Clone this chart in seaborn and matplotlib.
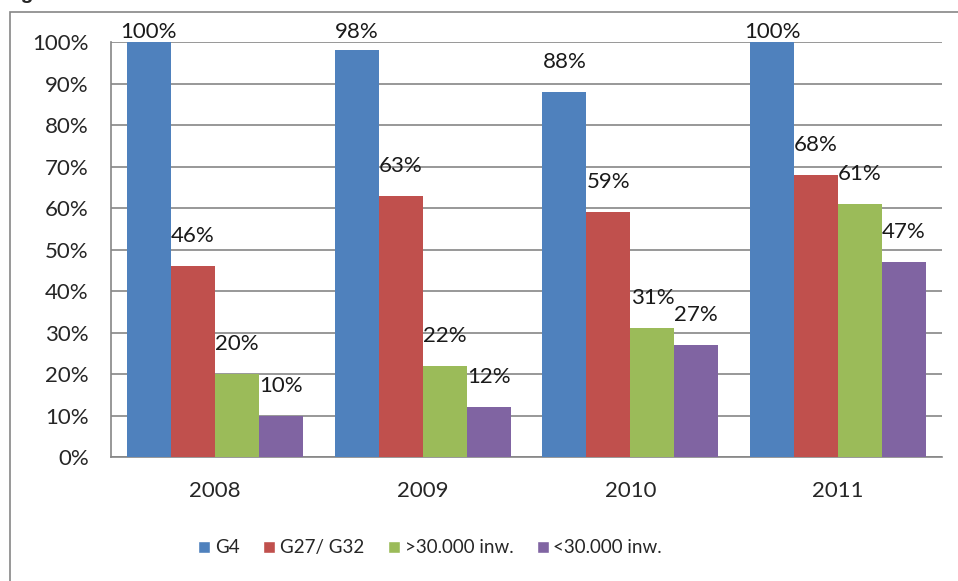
import numpy as np
import pandas as pd
import matplotlib.pyplot as plt
import seaborn as sns
from matplotlib.patches import Rectangle, Patch

years = ['2008', '2009', '2010', '2011']
groups = ['G4', 'G27/ G32', '>30.000 inw.', '<30.000 inw.']
g4 = [100, 98, 88, 100]
g27 = [46, 63, 59, 68]
boven30 = [20, 22, 31, 61]
onder30 = [10, 12, 27, 47]
colors = ['#4F81BD', '#C0504D', '#9BBB59', '#8064A2']

df = pd.DataFrame({
    'jaar': years * 4,
    'groep': np.repeat(groups, 4),
    'pct': g4 + g27 + boven30 + onder30,
})

sns.set_style('white')
plt.rcParams['font.family'] = ['Lato', 'DejaVu Sans']

fig = plt.figure(figsize=(9.58, 5.81), dpi=100)
ax = fig.add_axes([0.1159, 0.2134, 0.8674, 0.7143])

sns.barplot(data=df, x='jaar', y='pct', hue='groep', palette=colors,
            width=0.847, gap=0, saturation=1, linewidth=0, ax=ax,
            legend=False, zorder=3)

ax.set_ylim(0, 100)
# px per percent, used to keep labels from running over the top
px_per_pct = 0.7143 * 581 / 100
for cont in ax.containers:
    for bar in cont:
        h = bar.get_height()
        y = min(h + 20 / px_per_pct, 100)
        ax.text(bar.get_x() + bar.get_width() / 2, y, f'{h:.0f}%',
                ha='center', va='bottom', fontsize=16, color='#1a1a1a',
                zorder=5)

ax.set_yticks(range(0, 101, 10))
ax.set_yticklabels([f'{v}%' for v in range(0, 101, 10)], fontsize=16)
ax.tick_params(axis='x', labelsize=16, pad=17, length=0)
ax.tick_params(axis='y', length=0, pad=16)
ax.yaxis.grid(True, color='#868686', linewidth=1.2, zorder=0)
ax.set_axisbelow(True)
ax.set_xlabel('')
ax.set_ylabel('')
for side in ['top', 'right']:
    ax.spines[side].set_visible(False)
for side in ['left', 'bottom']:
    ax.spines[side].set_color('#868686')
    ax.spines[side].set_linewidth(1.2)

handles = [Patch(facecolor=c, label=g) for c, g in zip(colors, groups)]
fig.legend(handles=handles, loc='center', bbox_to_anchor=(0.449, 0.057), ncol=4,
           frameon=False, fontsize=13.5, handlelength=0.65, handleheight=0.65,
           handletextpad=0.25, columnspacing=1.25)

# frame around the chart
fig.patches.append(Rectangle((10 / 958, -0.05), 1.0, 1 - 11.5 / 581 + 0.05,
                             transform=fig.transFigure, fill=False,
                             edgecolor='#868686', linewidth=1.2))
fig.text(0.002, 1.012, 'Figuur 2.1', fontsize=15, fontweight='bold',
         ha='left', va='center', family=['Liberation Sans'])

fig.savefig('out.png', dpi=100)
